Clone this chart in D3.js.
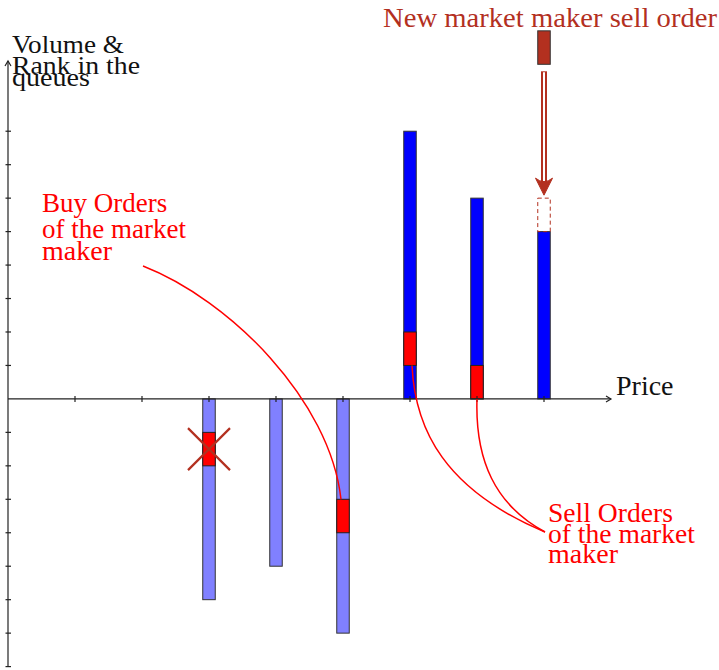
<!DOCTYPE html>
<html><head><meta charset="utf-8">
<script src="https://cdn.jsdelivr.net/npm/d3@7"></script>
<style>html,body{margin:0;padding:0;background:#fff;}svg{display:block;}</style>
</head><body>
<script>
// ---- data ----
const prices = [6, 8, 10, 12, 14, 16];
const volumes = [-6, -5, -7, 8, 6, 5];
const mmPrices = [6, 10, 12, 14];
const mmFrom = [-1, -3, 1, 0];
const mmTo = [-2, -4, 2, 1];
const mmCancelled = [true, false, false, false];
const newOrderPrice = 16;
const newOrderFrom = [10, 11];
const newOrderTarget = [5, 6];
const xTicks = [2, 4, 6, 8, 10, 12, 14, 16];
const yTicks = [-8, -7, -6, -5, -4, -3, -2, -1, 1, 2, 3, 4, 5, 6, 7, 8];

const W = 719, H = 670;
const BRICK = "#b3301f";
const RED = "#ff0000";

const svg = d3.select("body").append("svg").attr("width", W).attr("height", H);
const x = d3.scaleLinear().domain([0, 18]).range([8, 611]);
const y = d3.scaleLinear().domain([-8, 10]).range([666.6, 64.3]);
const bw = 12.5;

// bars
prices.forEach((p, i) => {
  const v = volumes[i];
  svg.append("rect")
    .attr("x", x(p) - bw / 2).attr("width", bw)
    .attr("y", y(Math.max(0, v))).attr("height", Math.abs(y(v) - y(0)))
    .attr("fill", v < 0 ? "#8080ff" : "#0000ff")
    .attr("stroke", "#333").attr("stroke-width", 1);
});
// market maker orders
mmPrices.forEach((p, i) => {
  const top = Math.max(mmFrom[i], mmTo[i]), bot = Math.min(mmFrom[i], mmTo[i]);
  svg.append("rect")
    .attr("x", x(p) - bw / 2).attr("width", bw)
    .attr("y", y(top)).attr("height", y(bot) - y(top))
    .attr("fill", RED).attr("stroke", "#222").attr("stroke-width", 1);
  if (mmCancelled[i]) {
    const cx = x(p), cy = (y(top) + y(bot)) / 2, r = 21;
    svg.append("path")
      .attr("d", `M${cx - r},${cy - r}L${cx + r},${cy + r}M${cx + r},${cy - r}L${cx - r},${cy + r}`)
      .attr("stroke", BRICK).attr("stroke-width", 2.2).attr("fill", "none");
  }
});

// dashed target box
svg.append("rect")
  .attr("x", x(newOrderPrice) - bw / 2).attr("width", bw)
  .attr("y", y(newOrderTarget[1])).attr("height", y(newOrderTarget[0]) - y(newOrderTarget[1]))
  .attr("fill", "none").attr("stroke", BRICK).attr("stroke-width", 1).attr("stroke-dasharray", "4,3");
// new order
svg.append("rect")
  .attr("x", x(newOrderPrice) - bw / 2).attr("width", bw)
  .attr("y", y(newOrderFrom[1])).attr("height", y(newOrderFrom[0]) - y(newOrderFrom[1]))
  .attr("fill", BRICK).attr("stroke", "#333").attr("stroke-width", 1);

// double arrow
{
  const ax = x(newOrderPrice), y0 = y(newOrderFrom[0]) + 7, y1 = y(newOrderTarget[1]) - 3;
  svg.append("line").attr("x1", ax).attr("x2", ax).attr("y1", y0).attr("y2", y1 - 12)
    .attr("stroke", BRICK).attr("stroke-width", 6);
  svg.append("line").attr("x1", ax).attr("x2", ax).attr("y1", y0 + 1).attr("y2", y1 - 14)
    .attr("stroke", "#fff").attr("stroke-width", 2);
  svg.append("path")
    .attr("d", `M${ax},${y1} L${ax - 8.5},${y1 - 17} Q${ax},${y1 - 10} ${ax + 8.5},${y1 - 17} Z`)
    .attr("fill", BRICK).attr("stroke", BRICK).attr("stroke-width", 1).attr("stroke-linejoin", "round");
}

// axes
const axisG = svg.append("g").attr("stroke", "#222").attr("stroke-width", 1.2).attr("fill", "none");
axisG.append("line").attr("x1", x(0)).attr("x2", x(18)).attr("y1", y(0)).attr("y2", y(0));
axisG.append("line").attr("x1", x(0)).attr("x2", x(0)).attr("y1", y(-8)).attr("y2", y(10.1));
axisG.append("path").attr("d", `M${x(18) - 5},${y(0) - 3} L${x(18)},${y(0)} L${x(18) - 5},${y(0) + 3}`);
axisG.append("path").attr("d", `M${x(0) - 3},${y(10.1) + 5} L${x(0)},${y(10.1)} L${x(0) + 3},${y(10.1) + 5}`);
xTicks.forEach(t => axisG.append("line").attr("x1", x(t)).attr("x2", x(t)).attr("y1", y(0) - 3).attr("y2", y(0) + 3));
yTicks.forEach(t => axisG.append("line").attr("x1", x(0) - 2.5).attr("x2", x(0) + 3).attr("y1", y(t)).attr("y2", y(t)));

// connector curves
const curve = (p0, p1, p2, p3) => {
  const pth = d3.path(); pth.moveTo(...p0); pth.bezierCurveTo(...p1, ...p2, ...p3); return pth.toString();
};
const cg = svg.append("g").attr("stroke", RED).attr("stroke-width", 1.5).attr("fill", "none");
cg.append("path").attr("d", curve([143, 266], [230, 300], [330, 400], [x(10) - 2, y(-3)]));
cg.append("path").attr("d", curve([x(12) + 2, y(1)], [415, 430], [445, 490], [545, 532]));
cg.append("path").attr("d", curve([x(14), y(0)], [475, 460], [495, 505], [545, 532]));

// texts
function txt(s, px, py, size, color, len) {
  const t = svg.append("text").attr("x", px).attr("y", py).text(s)
    .attr("font-family", "Liberation Serif").attr("font-size", size).attr("fill", color);
  const w = t.node().getComputedTextLength();
  if (Math.abs(w - len) > 2) t.attr("textLength", len).attr("lengthAdjust", "spacingAndGlyphs");
}
txt("New market maker sell order", 383, 27, 27, BRICK, 334);
txt("Volume &", 12, 53, 26, "#111", 112);
txt("Rank in the", 12, 74, 26, "#111", 128);
txt("queues", 12, 86, 26, "#111", 78);
txt("Price", 616, 395, 28, "#111", 58);
txt("Buy Orders", 42, 212, 27, RED, 127);
txt("of the market", 42, 238, 27, RED, 145);
txt("maker", 42, 260, 27, RED, 70);
txt("Sell Orders", 548, 522, 27, RED, 125);
txt("of the market", 548, 543, 27, RED, 147);
txt("maker", 548, 563, 27, RED, 70);
</script>
</body></html>
